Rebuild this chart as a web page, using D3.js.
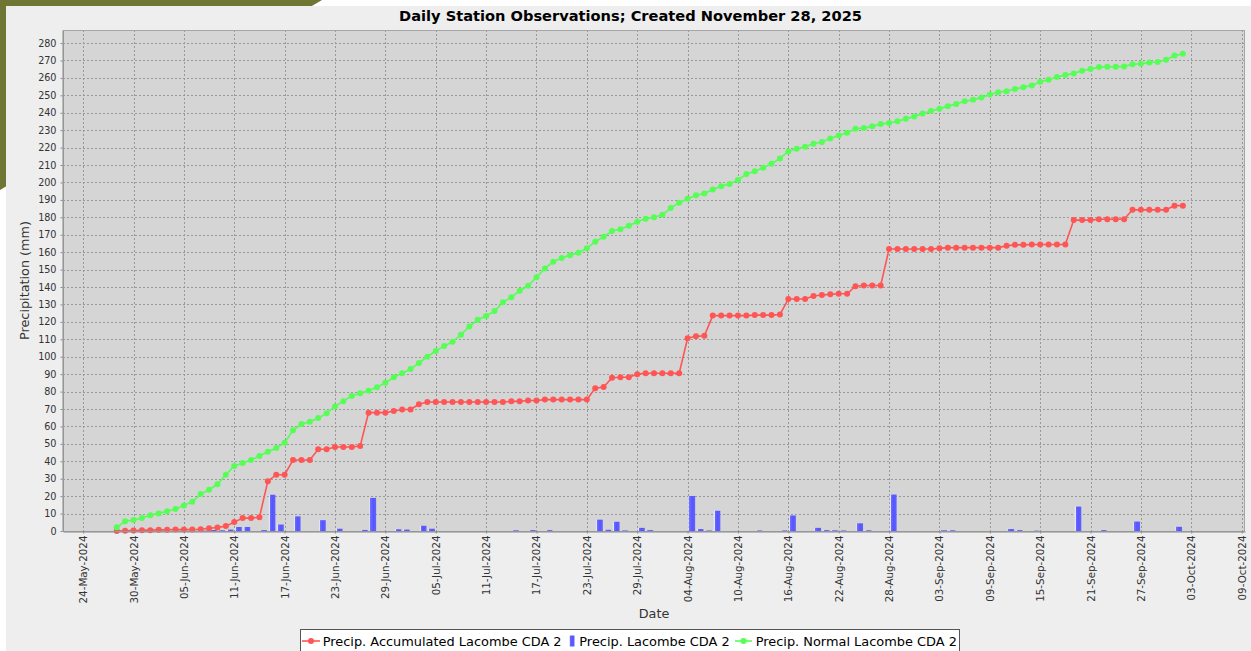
<!DOCTYPE html>
<html><head><meta charset="utf-8">
<script src="https://cdn.jsdelivr.net/npm/d3@7"></script>
<style>
body{margin:0;background:#ffffff;}
svg{display:block;font-family:"DejaVu Sans",sans-serif;}
</style>
</head><body>
<svg id="chart" width="1251" height="651"></svg>
<script>
// ---------------- DATA ----------------
const titleText = "Daily Station Observations; Created November 28, 2025";
const yAxisTitle = "Precipitation (mm)";
const xAxisTitle = "Date";
const seriesNames = ["Precip. Accumulated Lacombe CDA 2", "Precip. Lacombe CDA 2", "Precip. Normal Lacombe CDA 2"];
const firstDay = "2024-05-28"; // one value per day from this date

const accumulated = [
  0, 0.1, 0.3, 0.4, 0.5, 0.7, 0.7, 0.8, 0.8, 0.8,
  1.0, 1.6, 2.0, 2.8, 5.1, 7.4, 7.4, 7.9, 28.6, 32.3,
  32.3, 40.7, 40.7, 40.7, 46.9, 46.9, 48.2, 48.2, 48.2, 48.8,
  67.9, 67.9, 67.9, 68.9, 69.7, 69.7, 72.7, 74.0, 74.0, 74.0,
  74.0, 74.0, 74.0, 74.0, 74.0, 74.0, 74.0, 74.4, 74.4, 74.9,
  74.9, 75.4, 75.4, 75.4, 75.4, 75.4, 75.4, 81.9, 82.6, 87.9,
  88.2, 88.2, 90.0, 90.5, 90.5, 90.5, 90.5, 90.5, 110.6, 111.7,
  112.0, 123.6, 123.6, 123.6, 123.6, 123.6, 123.9, 123.9, 123.9, 124.2,
  133.1, 133.1, 133.1, 134.9, 135.4, 135.8, 136.1, 136.1, 140.5, 140.9,
  140.9, 140.9, 161.8, 161.8, 161.8, 161.8, 161.8, 161.8, 162.2, 162.6,
  162.6, 162.6, 162.6, 162.6, 162.6, 162.6, 163.7, 164.2, 164.2, 164.4,
  164.4, 164.4, 164.4, 164.4, 178.4, 178.4, 178.4, 178.9, 178.9, 178.9,
  178.9, 184.3, 184.3, 184.3, 184.3, 184.3, 186.7, 186.7
];

const daily = [
  0, 0.1, 0.2, 0.1, 0.1, 0.2, 0, 0.1, 0, 0,
  0.2, 0.6, 0.4, 0.8, 2.3, 2.3, 0, 0.5, 20.8, 3.7,
  0, 8.4, 0, 0, 6.2, 0, 1.3, 0, 0, 0.6,
  19.0, 0, 0, 1.0, 0.8, 0, 3.0, 1.3, 0, 0,
  0, 0, 0, 0, 0, 0, 0, 0.4, 0, 0.5,
  0, 0.5, 0, 0, 0, 0, 0, 6.5, 0.7, 5.3,
  0.3, 0, 1.8, 0.5, 0, 0, 0, 0, 20.1, 1.1,
  0.3, 11.6, 0, 0, 0, 0, 0.3, 0, 0, 0.3,
  8.9, 0, 0, 1.8, 0.5, 0.4, 0.3, 0, 4.4, 0.4,
  0, 0, 20.9, 0, 0, 0, 0, 0, 0.4, 0.4,
  0, 0, 0, 0, 0, 0, 1.1, 0.5, 0, 0.2,
  0, 0, 0, 0, 14.0, 0, 0, 0.5, 0, 0,
  0, 5.4, 0, 0, 0, 0, 2.4, 0
];

const normal = [
  2.1, 5.6, 6.3, 7.5, 9.0, 10.1, 11.3, 12.6, 14.7, 16.8,
  21.2, 23.7, 26.8, 32.3, 37.3, 39.0, 40.7, 43.0, 45.5, 47.6,
  50.7, 57.8, 61.4, 62.7, 64.8, 67.5, 71.5, 74.5, 77.5, 79.0,
  80.5, 82.5, 85.0, 88.2, 90.5, 92.9, 96.4, 100.0, 103.3, 106.1,
  108.6, 112.6, 117.4, 121.2, 123.4, 126.2, 131.2, 134.1, 137.9, 140.7,
  145.6, 150.7, 154.5, 156.6, 158.3, 159.7, 162.2, 166.0, 168.8, 172.1,
  173.1, 175.2, 177.5, 179.2, 180.1, 181.5, 185.3, 188.4, 190.7, 192.6,
  193.7, 196.0, 197.9, 199.1, 201.4, 204.8, 206.4, 208.4, 210.7, 213.8,
  217.8, 219.3, 220.5, 222.2, 223.2, 225.3, 227.0, 228.5, 230.8, 231.2,
  232.2, 233.5, 234.1, 235.1, 236.5, 237.9, 239.6, 241.0, 242.3, 243.8,
  245.0, 246.6, 247.4, 248.7, 250.5, 251.8, 252.4, 253.6, 254.7, 255.7,
  257.8, 258.9, 260.5, 261.6, 262.6, 264.1, 265.1, 266.2, 266.4, 266.4,
  266.6, 267.9, 268.1, 268.9, 269.1, 270.4, 272.9, 273.8
];

const xTickLabels = [
  "24-May-2024","30-May-2024","05-Jun-2024","11-Jun-2024","17-Jun-2024","23-Jun-2024",
  "29-Jun-2024","05-Jul-2024","11-Jul-2024","17-Jul-2024","23-Jul-2024","29-Jul-2024",
  "04-Aug-2024","10-Aug-2024","16-Aug-2024","22-Aug-2024","28-Aug-2024","03-Sep-2024",
  "09-Sep-2024","15-Sep-2024","21-Sep-2024","27-Sep-2024","03-Oct-2024","09-Oct-2024"
];
const yTickValues = [0,10,20,30,40,50,60,70,80,90,100,110,120,130,140,150,160,170,180,190,200,210,220,230,240,250,260,270,280];

// ---------------- LAYOUT / STYLE ----------------
const W = 1251, H = 651;
const P = {l: 63, r: 1245, t: 30, b: 531};
const COL = {red: "#ff5555", blue: "#5555ff", green: "#55ff55"};
const FONT = "DejaVu Sans";

const svg = d3.select("#chart");

// font size calibrated so that a sample string spans a given pixel width
function fitSize(sample, targetPx, weight) {
  const t = svg.append("text").attr("font-family", FONT).attr("font-size", "20px")
    .attr("font-weight", weight || "normal").text(sample);
  const w = t.node().getComputedTextLength();
  t.remove();
  return w > 0 ? 20 * targetPx / w : 10;
}
const fsXTick = fitSize("24-May-2024", 68);
const fsYTick = fitSize("280", 18.4);
const fsTitle = fitSize(titleText, 463, "bold");
const fsAxisTitle = fitSize(yAxisTitle, 119);
const fsLegend = fitSize(seriesNames[0], 239);

const parseDay = d3.utcParse("%Y-%m-%d");
const parseTick = d3.utcParse("%d-%b-%Y");
const fmtTick = d3.utcFormat("%d-%b-%Y");
const t0 = parseDay(firstDay);
const dates = accumulated.map((_, i) => d3.utcDay.offset(t0, i));
const tickDates = xTickLabels.map(parseTick);

const dStart = dates[0];
const dEnd = d3.utcDay.offset(dates[dates.length - 1], 1);
const span = dEnd - dStart;
const x = d3.scaleUtc()
  .domain([new Date(+dStart - span * 0.05), new Date(+dEnd + span * 0.05)])
  .range([P.l, P.r]);
const maxV = d3.max([].concat(accumulated, daily, normal));
const y = d3.scaleLinear().domain([0, maxV * 1.05]).range([P.b, P.t]);
const dayPx = x(d3.utcDay.offset(dStart, 1)) - x(dStart);

// background decoration
svg.append("polygon").attr("points", "0,0 322,0 0,190").attr("fill", "#6f7533");
svg.append("rect").attr("x", 6).attr("y", 6).attr("width", W - 6).attr("height", H - 6).attr("fill", "#eeeeee");

// title
svg.append("text").attr("x", 630.5).attr("y", 21).attr("text-anchor", "middle")
  .attr("font-size", fsTitle + "px").attr("font-weight", "bold").attr("fill", "#000")
  .text(titleText);

// plot background
svg.append("rect").attr("x", P.l).attr("y", P.t).attr("width", P.r - P.l).attr("height", P.b - P.t)
  .attr("fill", "#d4d5d4");

// gridlines
const grid = svg.append("g").attr("stroke", "#999999").attr("stroke-width", 1).attr("stroke-dasharray", "2,2");
tickDates.forEach(d => {
  const xx = Math.round(x(d)) + 0.5;
  grid.append("line").attr("x1", xx).attr("x2", xx).attr("y1", P.t).attr("y2", P.b);
});
yTickValues.forEach(v => {
  if (v === 0) return;
  const yy = Math.round(y(v)) + 0.5;
  grid.append("line").attr("x1", P.l).attr("x2", P.r).attr("y1", yy).attr("y2", yy);
});

// bar gradient
const defs = svg.append("defs");
const grad = defs.append("linearGradient").attr("id", "barGrad").attr("x1", "0").attr("x2", "1").attr("y1", "0").attr("y2", "0");
grad.append("stop").attr("offset", "0%").attr("stop-color", "#e4e4ff");
grad.append("stop").attr("offset", "14%").attr("stop-color", "#e4e4ff");
grad.append("stop").attr("offset", "16%").attr("stop-color", "#6e6eff");
grad.append("stop").attr("offset", "55%").attr("stop-color", "#5555ff");
grad.append("stop").attr("offset", "100%").attr("stop-color", "#6262ff");

// bars
svg.append("g").selectAll("rect")
  .data(dates.map((d, i) => ({d, v: daily[i]})).filter(o => o.v > 0))
  .join("rect")
  .attr("x", o => x(o.d) + dayPx * 0.1)
  .attr("width", dayPx * 0.8)
  .attr("y", o => y(o.v))
  .attr("height", o => y(0) - y(o.v))
  .attr("fill", "url(#barGrad)");

// lines
function drawSeries(vals, color) {
  const pts = dates.map((d, i) => [x(d), y(vals[i])]);
  svg.append("path").attr("d", d3.line()(pts)).attr("fill", "none")
    .attr("stroke", color).attr("stroke-width", 1.6);
  svg.append("g").selectAll("circle").data(pts).join("circle")
    .attr("cx", p => p[0]).attr("cy", p => p[1]).attr("r", 3).attr("fill", color);
}
drawSeries(accumulated, COL.red);
drawSeries(normal, COL.green);

// plot outline
svg.append("rect").attr("x", P.l + 0.5).attr("y", P.t + 0.5).attr("width", P.r - P.l - 1).attr("height", P.b - P.t)
  .attr("fill", "none").attr("stroke", "#a5a5a5").attr("stroke-width", 1);

// x axis
const xAxis = svg.append("g").attr("transform", `translate(0,${P.b + 0.5})`)
  .call(d3.axisBottom(x).tickValues(tickDates).tickFormat(fmtTick).tickSize(2).tickSizeOuter(0));
xAxis.select(".domain").attr("stroke", "#888");
xAxis.selectAll(".tick line").attr("stroke", "#888");
xAxis.selectAll(".tick text")
  .attr("transform", "rotate(-90)")
  .attr("text-anchor", "end")
  .attr("x", -4).attr("y", 0).attr("dy", "0.34em")
  .attr("font-family", FONT).attr("font-size", fsXTick + "px").attr("fill", "#333");

// y axis
const yAxis = svg.append("g").attr("transform", `translate(${P.l - 0.5},0)`)
  .call(d3.axisLeft(y).tickValues(yTickValues).tickFormat(d3.format("d")).tickSize(2).tickPadding(4).tickSizeOuter(0));
yAxis.select(".domain").attr("stroke", "#888");
yAxis.selectAll(".tick line").attr("stroke", "#888");
yAxis.selectAll(".tick text").attr("font-family", FONT).attr("font-size", fsYTick + "px").attr("fill", "#333");

// axis titles
svg.append("text").attr("transform", `translate(29,${(P.t + P.b) / 2}) rotate(-90)`)
  .attr("text-anchor", "middle").attr("font-size", fsAxisTitle + "px").attr("fill", "#333").text(yAxisTitle);
svg.append("text").attr("x", (P.l + P.r) / 2).attr("y", 618)
  .attr("text-anchor", "middle").attr("font-size", fsAxisTitle + "px").attr("fill", "#333").text(xAxisTitle);

// legend
const lg = svg.append("g");
lg.append("rect").attr("x", 300.5).attr("y", 629.5).attr("width", 659).attr("height", 30)
  .attr("fill", "#ffffff").attr("stroke", "#555").attr("stroke-width", 1);
const ly = 641;
const legendItems = [
  {type: "line", color: COL.red, x0: 302, x1: 320, tx: 322.7, name: seriesNames[0]},
  {type: "bar", color: COL.blue, x0: 569, x1: 574.5, tx: 579.3, name: seriesNames[1]},
  {type: "line", color: COL.green, x0: 735, x1: 752, tx: 755.7, name: seriesNames[2]}
];
legendItems.forEach(it => {
  if (it.type === "line") {
    lg.append("line").attr("x1", it.x0).attr("x2", it.x1).attr("y1", ly).attr("y2", ly)
      .attr("stroke", it.color).attr("stroke-width", 1.6);
    lg.append("circle").attr("cx", (it.x0 + it.x1) / 2).attr("cy", ly).attr("r", 3).attr("fill", it.color);
  } else {
    lg.append("rect").attr("x", it.x0).attr("y", 635.5).attr("width", it.x1 - it.x0).attr("height", 11)
      .attr("fill", "url(#barGrad)");
  }
  lg.append("text").attr("x", it.tx).attr("y", 645.7).attr("font-size", fsLegend + "px").attr("fill", "#000").text(it.name);
});
</script>
</body></html>
